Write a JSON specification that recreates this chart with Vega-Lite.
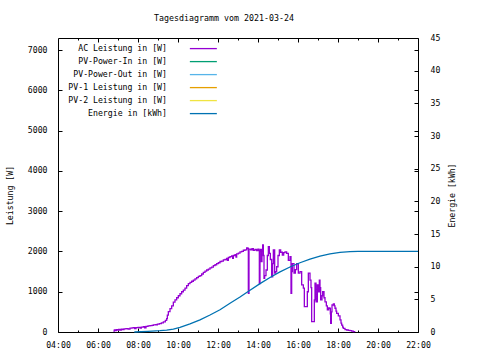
{
  "$schema": "https://vega.github.io/schema/vega-lite/v6.json",
  "width": 360,
  "height": 294,
  "autosize": "none",
  "padding": {"left": 58, "top": 38, "right": 62, "bottom": 28},
  "background": "white",
  "title": {"text": "Tagesdiagramm vom 2021-03-24", "font": "DejaVu Sans Mono", "fontSize": 8.3, "fontWeight": "normal", "color": "black", "anchor": "middle", "offset": 11, "dx": -14},
  "datasets": {
    "ac": [
      {"t": "2021-03-24T06:46", "w": 20}, {"t": "2021-03-24T06:49", "w": 55}, {"t": "2021-03-24T06:52", "w": 35}, {"t": "2021-03-24T06:55", "w": 60},
      {"t": "2021-03-24T06:58", "w": 45}, {"t": "2021-03-24T07:02", "w": 65}, {"t": "2021-03-24T07:06", "w": 50}, {"t": "2021-03-24T07:10", "w": 70},
      {"t": "2021-03-24T07:14", "w": 60}, {"t": "2021-03-24T07:18", "w": 80}, {"t": "2021-03-24T07:24", "w": 85}, {"t": "2021-03-24T07:30", "w": 75},
      {"t": "2021-03-24T07:36", "w": 95}, {"t": "2021-03-24T07:42", "w": 100}, {"t": "2021-03-24T07:46", "w": 105}, {"t": "2021-03-24T07:50", "w": 85},
      {"t": "2021-03-24T07:54", "w": 110}, {"t": "2021-03-24T08:00", "w": 115}, {"t": "2021-03-24T08:06", "w": 95}, {"t": "2021-03-24T08:10", "w": 120},
      {"t": "2021-03-24T08:16", "w": 130}, {"t": "2021-03-24T08:20", "w": 100}, {"t": "2021-03-24T08:24", "w": 140}, {"t": "2021-03-24T08:30", "w": 150},
      {"t": "2021-03-24T08:36", "w": 160}, {"t": "2021-03-24T08:42", "w": 165}, {"t": "2021-03-24T08:46", "w": 175}, {"t": "2021-03-24T08:52", "w": 180},
      {"t": "2021-03-24T08:58", "w": 195}, {"t": "2021-03-24T09:04", "w": 210}, {"t": "2021-03-24T09:10", "w": 225}, {"t": "2021-03-24T09:16", "w": 250},
      {"t": "2021-03-24T09:22", "w": 290}, {"t": "2021-03-24T09:26", "w": 330}, {"t": "2021-03-24T09:28", "w": 420}, {"t": "2021-03-24T09:31", "w": 505},
      {"t": "2021-03-24T09:36", "w": 580}, {"t": "2021-03-24T09:41", "w": 650}, {"t": "2021-03-24T09:46", "w": 740}, {"t": "2021-03-24T09:51", "w": 800},
      {"t": "2021-03-24T09:56", "w": 850}, {"t": "2021-03-24T10:01", "w": 900}, {"t": "2021-03-24T10:06", "w": 950}, {"t": "2021-03-24T10:11", "w": 1000},
      {"t": "2021-03-24T10:16", "w": 1040}, {"t": "2021-03-24T10:21", "w": 1090}, {"t": "2021-03-24T10:26", "w": 1150}, {"t": "2021-03-24T10:31", "w": 1200},
      {"t": "2021-03-24T10:36", "w": 1230}, {"t": "2021-03-24T10:41", "w": 1260}, {"t": "2021-03-24T10:46", "w": 1290}, {"t": "2021-03-24T10:51", "w": 1320},
      {"t": "2021-03-24T10:56", "w": 1350}, {"t": "2021-03-24T11:01", "w": 1380}, {"t": "2021-03-24T11:06", "w": 1400}, {"t": "2021-03-24T11:11", "w": 1440},
      {"t": "2021-03-24T11:16", "w": 1480}, {"t": "2021-03-24T11:21", "w": 1510}, {"t": "2021-03-24T11:26", "w": 1540}, {"t": "2021-03-24T11:31", "w": 1560},
      {"t": "2021-03-24T11:36", "w": 1590}, {"t": "2021-03-24T11:41", "w": 1610}, {"t": "2021-03-24T11:46", "w": 1650}, {"t": "2021-03-24T11:51", "w": 1670},
      {"t": "2021-03-24T11:56", "w": 1700}, {"t": "2021-03-24T12:01", "w": 1720}, {"t": "2021-03-24T12:06", "w": 1750}, {"t": "2021-03-24T12:11", "w": 1760},
      {"t": "2021-03-24T12:16", "w": 1790}, {"t": "2021-03-24T12:21", "w": 1800}, {"t": "2021-03-24T12:26", "w": 1830}, {"t": "2021-03-24T12:28", "w": 1780},
      {"t": "2021-03-24T12:31", "w": 1850}, {"t": "2021-03-24T12:36", "w": 1870}, {"t": "2021-03-24T12:41", "w": 1890}, {"t": "2021-03-24T12:44", "w": 1830},
      {"t": "2021-03-24T12:46", "w": 1900}, {"t": "2021-03-24T12:51", "w": 1920}, {"t": "2021-03-24T12:54", "w": 1860}, {"t": "2021-03-24T12:56", "w": 1940},
      {"t": "2021-03-24T13:01", "w": 1960}, {"t": "2021-03-24T13:06", "w": 1990}, {"t": "2021-03-24T13:11", "w": 2000}, {"t": "2021-03-24T13:16", "w": 2030},
      {"t": "2021-03-24T13:21", "w": 2040}, {"t": "2021-03-24T13:26", "w": 2090}, {"t": "2021-03-24T13:30", "w": 2070}, {"t": "2021-03-24T13:31", "w": 960},
      {"t": "2021-03-24T13:33", "w": 2060}, {"t": "2021-03-24T13:38", "w": 2040}, {"t": "2021-03-24T13:42", "w": 2070}, {"t": "2021-03-24T13:46", "w": 2030},
      {"t": "2021-03-24T13:51", "w": 2050}, {"t": "2021-03-24T13:56", "w": 2020}, {"t": "2021-03-24T14:00", "w": 2060}, {"t": "2021-03-24T14:03", "w": 2040},
      {"t": "2021-03-24T14:04", "w": 1200}, {"t": "2021-03-24T14:06", "w": 2000}, {"t": "2021-03-24T14:08", "w": 2050}, {"t": "2021-03-24T14:10", "w": 1750},
      {"t": "2021-03-24T14:12", "w": 2000}, {"t": "2021-03-24T14:14", "w": 2160}, {"t": "2021-03-24T14:16", "w": 1900}, {"t": "2021-03-24T14:18", "w": 1330},
      {"t": "2021-03-24T14:20", "w": 1400}, {"t": "2021-03-24T14:24", "w": 1540}, {"t": "2021-03-24T14:28", "w": 1900}, {"t": "2021-03-24T14:31", "w": 2120},
      {"t": "2021-03-24T14:34", "w": 1950}, {"t": "2021-03-24T14:37", "w": 1800}, {"t": "2021-03-24T14:41", "w": 1370}, {"t": "2021-03-24T14:44", "w": 1700},
      {"t": "2021-03-24T14:46", "w": 2040}, {"t": "2021-03-24T14:50", "w": 1460}, {"t": "2021-03-24T14:53", "w": 1500}, {"t": "2021-03-24T14:56", "w": 1620},
      {"t": "2021-03-24T15:00", "w": 1900}, {"t": "2021-03-24T15:04", "w": 2040}, {"t": "2021-03-24T15:08", "w": 1980}, {"t": "2021-03-24T15:13", "w": 1910},
      {"t": "2021-03-24T15:17", "w": 1970}, {"t": "2021-03-24T15:21", "w": 1990}, {"t": "2021-03-24T15:26", "w": 1950}, {"t": "2021-03-24T15:31", "w": 1780},
      {"t": "2021-03-24T15:36", "w": 1870}, {"t": "2021-03-24T15:39", "w": 960}, {"t": "2021-03-24T15:41", "w": 1500}, {"t": "2021-03-24T15:43", "w": 1700},
      {"t": "2021-03-24T15:48", "w": 1460}, {"t": "2021-03-24T15:52", "w": 1550}, {"t": "2021-03-24T15:56", "w": 1700}, {"t": "2021-03-24T16:01", "w": 1460},
      {"t": "2021-03-24T16:06", "w": 1500}, {"t": "2021-03-24T16:11", "w": 1170}, {"t": "2021-03-24T16:16", "w": 1090}, {"t": "2021-03-24T16:19", "w": 630},
      {"t": "2021-03-24T16:24", "w": 630}, {"t": "2021-03-24T16:28", "w": 1000}, {"t": "2021-03-24T16:31", "w": 1460}, {"t": "2021-03-24T16:36", "w": 1290},
      {"t": "2021-03-24T16:39", "w": 1100}, {"t": "2021-03-24T16:41", "w": 260}, {"t": "2021-03-24T16:46", "w": 260}, {"t": "2021-03-24T16:49", "w": 800},
      {"t": "2021-03-24T16:51", "w": 1210}, {"t": "2021-03-24T16:54", "w": 750}, {"t": "2021-03-24T16:58", "w": 1170}, {"t": "2021-03-24T17:02", "w": 1000},
      {"t": "2021-03-24T17:04", "w": 1290}, {"t": "2021-03-24T17:06", "w": 1100}, {"t": "2021-03-24T17:08", "w": 800}, {"t": "2021-03-24T17:12", "w": 900},
      {"t": "2021-03-24T17:14", "w": 1000}, {"t": "2021-03-24T17:18", "w": 850}, {"t": "2021-03-24T17:21", "w": 750}, {"t": "2021-03-24T17:25", "w": 650},
      {"t": "2021-03-24T17:28", "w": 550}, {"t": "2021-03-24T17:32", "w": 600}, {"t": "2021-03-24T17:34", "w": 590}, {"t": "2021-03-24T17:37", "w": 450},
      {"t": "2021-03-24T17:38", "w": 215}, {"t": "2021-03-24T17:40", "w": 500}, {"t": "2021-03-24T17:42", "w": 670}, {"t": "2021-03-24T17:46", "w": 700},
      {"t": "2021-03-24T17:49", "w": 650}, {"t": "2021-03-24T17:51", "w": 590}, {"t": "2021-03-24T17:54", "w": 520}, {"t": "2021-03-24T17:56", "w": 460},
      {"t": "2021-03-24T18:01", "w": 400}, {"t": "2021-03-24T18:06", "w": 300}, {"t": "2021-03-24T18:09", "w": 220}, {"t": "2021-03-24T18:11", "w": 170},
      {"t": "2021-03-24T18:14", "w": 120}, {"t": "2021-03-24T18:16", "w": 90}, {"t": "2021-03-24T18:21", "w": 60}, {"t": "2021-03-24T18:26", "w": 50},
      {"t": "2021-03-24T18:31", "w": 40}, {"t": "2021-03-24T18:36", "w": 33}, {"t": "2021-03-24T18:41", "w": 20}, {"t": "2021-03-24T18:46", "w": 8},
      {"t": "2021-03-24T18:50", "w": 0}
    ],
    "energy": [
      {"t": "2021-03-24T07:49", "kwh": 0.0}, {"t": "2021-03-24T08:30", "kwh": 0.1}, {"t": "2021-03-24T09:06", "kwh": 0.2},
      {"t": "2021-03-24T09:26", "kwh": 0.3}, {"t": "2021-03-24T09:46", "kwh": 0.45}, {"t": "2021-03-24T10:06", "kwh": 0.7},
      {"t": "2021-03-24T10:36", "kwh": 1.25}, {"t": "2021-03-24T11:06", "kwh": 1.85}, {"t": "2021-03-24T11:36", "kwh": 2.6},
      {"t": "2021-03-24T12:06", "kwh": 3.4}, {"t": "2021-03-24T12:36", "kwh": 4.4}, {"t": "2021-03-24T13:06", "kwh": 5.35},
      {"t": "2021-03-24T13:36", "kwh": 6.4}, {"t": "2021-03-24T14:06", "kwh": 7.4}, {"t": "2021-03-24T14:36", "kwh": 8.35},
      {"t": "2021-03-24T15:06", "kwh": 9.2}, {"t": "2021-03-24T15:36", "kwh": 9.95}, {"t": "2021-03-24T16:06", "kwh": 10.6},
      {"t": "2021-03-24T16:36", "kwh": 11.15}, {"t": "2021-03-24T17:06", "kwh": 11.6}, {"t": "2021-03-24T17:36", "kwh": 11.95},
      {"t": "2021-03-24T18:06", "kwh": 12.2}, {"t": "2021-03-24T18:36", "kwh": 12.3}, {"t": "2021-03-24T19:00", "kwh": 12.35},
      {"t": "2021-03-24T22:00", "kwh": 12.35}
    ]
  },
  "layer": [
    {
      "data": {"name": "ac"},
      "mark": {"type": "line", "interpolate": "step-after", "strokeWidth": 1.3},
      "encoding": {
        "x": {"field": "t", "type": "temporal",
          "scale": {"domain": [{"year": 2021, "month": 3, "date": 24, "hours": 4}, {"year": 2021, "month": 3, "date": 24, "hours": 22}]},
          "axis": {"orient": "bottom", "title": null, "format": "%H:%M", "labelFlush": false, "labelOverlap": false, "labelPadding": 13,
            "values": [{"year": 2021, "month": 3, "date": 24, "hours": 4}, {"year": 2021, "month": 3, "date": 24, "hours": 6}, {"year": 2021, "month": 3, "date": 24, "hours": 8}, {"year": 2021, "month": 3, "date": 24, "hours": 10}, {"year": 2021, "month": 3, "date": 24, "hours": 12}, {"year": 2021, "month": 3, "date": 24, "hours": 14}, {"year": 2021, "month": 3, "date": 24, "hours": 16}, {"year": 2021, "month": 3, "date": 24, "hours": 18}, {"year": 2021, "month": 3, "date": 24, "hours": 20}, {"year": 2021, "month": 3, "date": 24, "hours": 22}]}},
        "y": {"field": "w", "type": "quantitative", "scale": {"domain": [0, 7300], "nice": false},
          "axis": {"orient": "left", "title": "Leistung [W]", "format": "d", "values": [0, 1000, 2000, 3000, 4000, 5000, 6000, 7000], "labelPadding": 15,
            "titleAngle": 270, "titleX": -48, "titleY": 157, "titleAlign": "center", "titleBaseline": "middle"}},
        "color": {"datum": "AC Leistung in [W]", "type": "nominal",
          "scale": {"domain": ["AC Leistung in [W]", "PV-Power-In in [W]", "PV-Power-Out in [W]", "PV-1 Leistung in [W]", "PV-2 Leistung in [W]", "Energie in [kWh]"],
            "range": ["#9400d3", "#009e73", "#56b4e9", "#e69f00", "#f0e442", "#0072b2"]},
          "legend": {"title": null, "orient": "none", "legendX": 108, "legendY": 6.5}}
      }
    },
    {
      "data": {"name": "energy"},
      "mark": {"type": "line", "strokeWidth": 1.3},
      "encoding": {
        "x": {"field": "t", "type": "temporal",
          "scale": {"domain": [{"year": 2021, "month": 3, "date": 24, "hours": 4}, {"year": 2021, "month": 3, "date": 24, "hours": 22}]},
          "axis": null},
        "y": {"field": "kwh", "type": "quantitative", "scale": {"domain": [0, 45], "nice": false},
          "axis": {"orient": "right", "title": "Energie [kWh]", "values": [0, 5, 10, 15, 20, 25, 30, 35, 40, 45], "labelPadding": 16,
            "titleAngle": 270, "titleX": 34, "titleY": 157, "titleAlign": "center", "titleBaseline": "middle"}},
        "color": {"datum": "Energie in [kWh]", "type": "nominal",
          "legend": {"title": null, "orient": "none", "legendX": 108, "legendY": 6.5}}
      }
    },
    {
      "data": {"name": "ac"},
      "mark": {"type": "line", "strokeOpacity": 0},
      "encoding": {
        "x": {"field": "t", "type": "temporal",
          "scale": {"domain": [{"year": 2021, "month": 3, "date": 24, "hours": 4}, {"year": 2021, "month": 3, "date": 24, "hours": 22}]},
          "axis": {"orient": "top", "title": null, "labels": false,
            "values": [{"year": 2021, "month": 3, "date": 24, "hours": 6}, {"year": 2021, "month": 3, "date": 24, "hours": 8}, {"year": 2021, "month": 3, "date": 24, "hours": 10}, {"year": 2021, "month": 3, "date": 24, "hours": 12}, {"year": 2021, "month": 3, "date": 24, "hours": 14}, {"year": 2021, "month": 3, "date": 24, "hours": 16}, {"year": 2021, "month": 3, "date": 24, "hours": 18}, {"year": 2021, "month": 3, "date": 24, "hours": 20}]}},
        "y": {"field": "w", "type": "quantitative", "scale": {"domain": [0, 7300], "nice": false},
          "axis": {"orient": "right", "title": null, "labels": false, "values": [1000, 2000, 3000, 4000, 5000, 6000, 7000]}}
      }
    },
    {
      "data": {"name": "ac"},
      "mark": {"type": "line", "strokeOpacity": 0},
      "encoding": {
        "x": {"field": "t", "type": "temporal",
          "scale": {"domain": [{"year": 2021, "month": 3, "date": 24, "hours": 4}, {"year": 2021, "month": 3, "date": 24, "hours": 22}]},
          "axis": {"orient": "bottom", "title": null, "labels": false, "tickSize": -2,
            "values": [{"year": 2021, "month": 3, "date": 24, "hours": 5}, {"year": 2021, "month": 3, "date": 24, "hours": 7}, {"year": 2021, "month": 3, "date": 24, "hours": 9}, {"year": 2021, "month": 3, "date": 24, "hours": 11}, {"year": 2021, "month": 3, "date": 24, "hours": 13}, {"year": 2021, "month": 3, "date": 24, "hours": 15}, {"year": 2021, "month": 3, "date": 24, "hours": 17}, {"year": 2021, "month": 3, "date": 24, "hours": 19}, {"year": 2021, "month": 3, "date": 24, "hours": 21}]}},
        "y": {"field": "w", "type": "quantitative", "scale": {"domain": [0, 7300], "nice": false}, "axis": null}
      }
    },
    {
      "data": {"name": "ac"},
      "mark": {"type": "line", "strokeOpacity": 0},
      "encoding": {
        "x": {"field": "t", "type": "temporal",
          "scale": {"domain": [{"year": 2021, "month": 3, "date": 24, "hours": 4}, {"year": 2021, "month": 3, "date": 24, "hours": 22}]},
          "axis": {"orient": "top", "title": null, "labels": false, "tickSize": -2,
            "values": [{"year": 2021, "month": 3, "date": 24, "hours": 5}, {"year": 2021, "month": 3, "date": 24, "hours": 7}, {"year": 2021, "month": 3, "date": 24, "hours": 9}, {"year": 2021, "month": 3, "date": 24, "hours": 11}, {"year": 2021, "month": 3, "date": 24, "hours": 13}, {"year": 2021, "month": 3, "date": 24, "hours": 15}, {"year": 2021, "month": 3, "date": 24, "hours": 17}, {"year": 2021, "month": 3, "date": 24, "hours": 19}, {"year": 2021, "month": 3, "date": 24, "hours": 21}]}},
        "y": {"field": "w", "type": "quantitative", "scale": {"domain": [0, 7300], "nice": false}, "axis": null}
      }
    }
  ],
  "resolve": {"scale": {"x": "independent", "y": "independent"}, "axis": {"x": "independent", "y": "independent"}},
  "config": {
    "font": "DejaVu Sans Mono",
    "view": {"stroke": "black", "strokeWidth": 1},
    "axis": {"domain": false, "grid": false, "tickSize": -4, "tickColor": "black", "tickWidth": 1,
      "labelFont": "DejaVu Sans Mono", "labelFontSize": 8.2, "labelColor": "black",
      "titleFont": "DejaVu Sans Mono", "titleFontSize": 8.2, "titleFontWeight": "normal", "titleColor": "black"},
    "legend": {"labelFont": "DejaVu Sans Mono", "labelFontSize": 8.2, "labelColor": "black", "labelAlign": "right", "labelBaseline": "middle",
      "labelOffset": -40.5, "symbolOffset": 33.25, "symbolType": "M-10,0H10", "symbolSize": 7.29, "symbolStrokeWidth": 1.3,
      "rowPadding": 4, "padding": 0, "labelLimit": 300}
  }
}
